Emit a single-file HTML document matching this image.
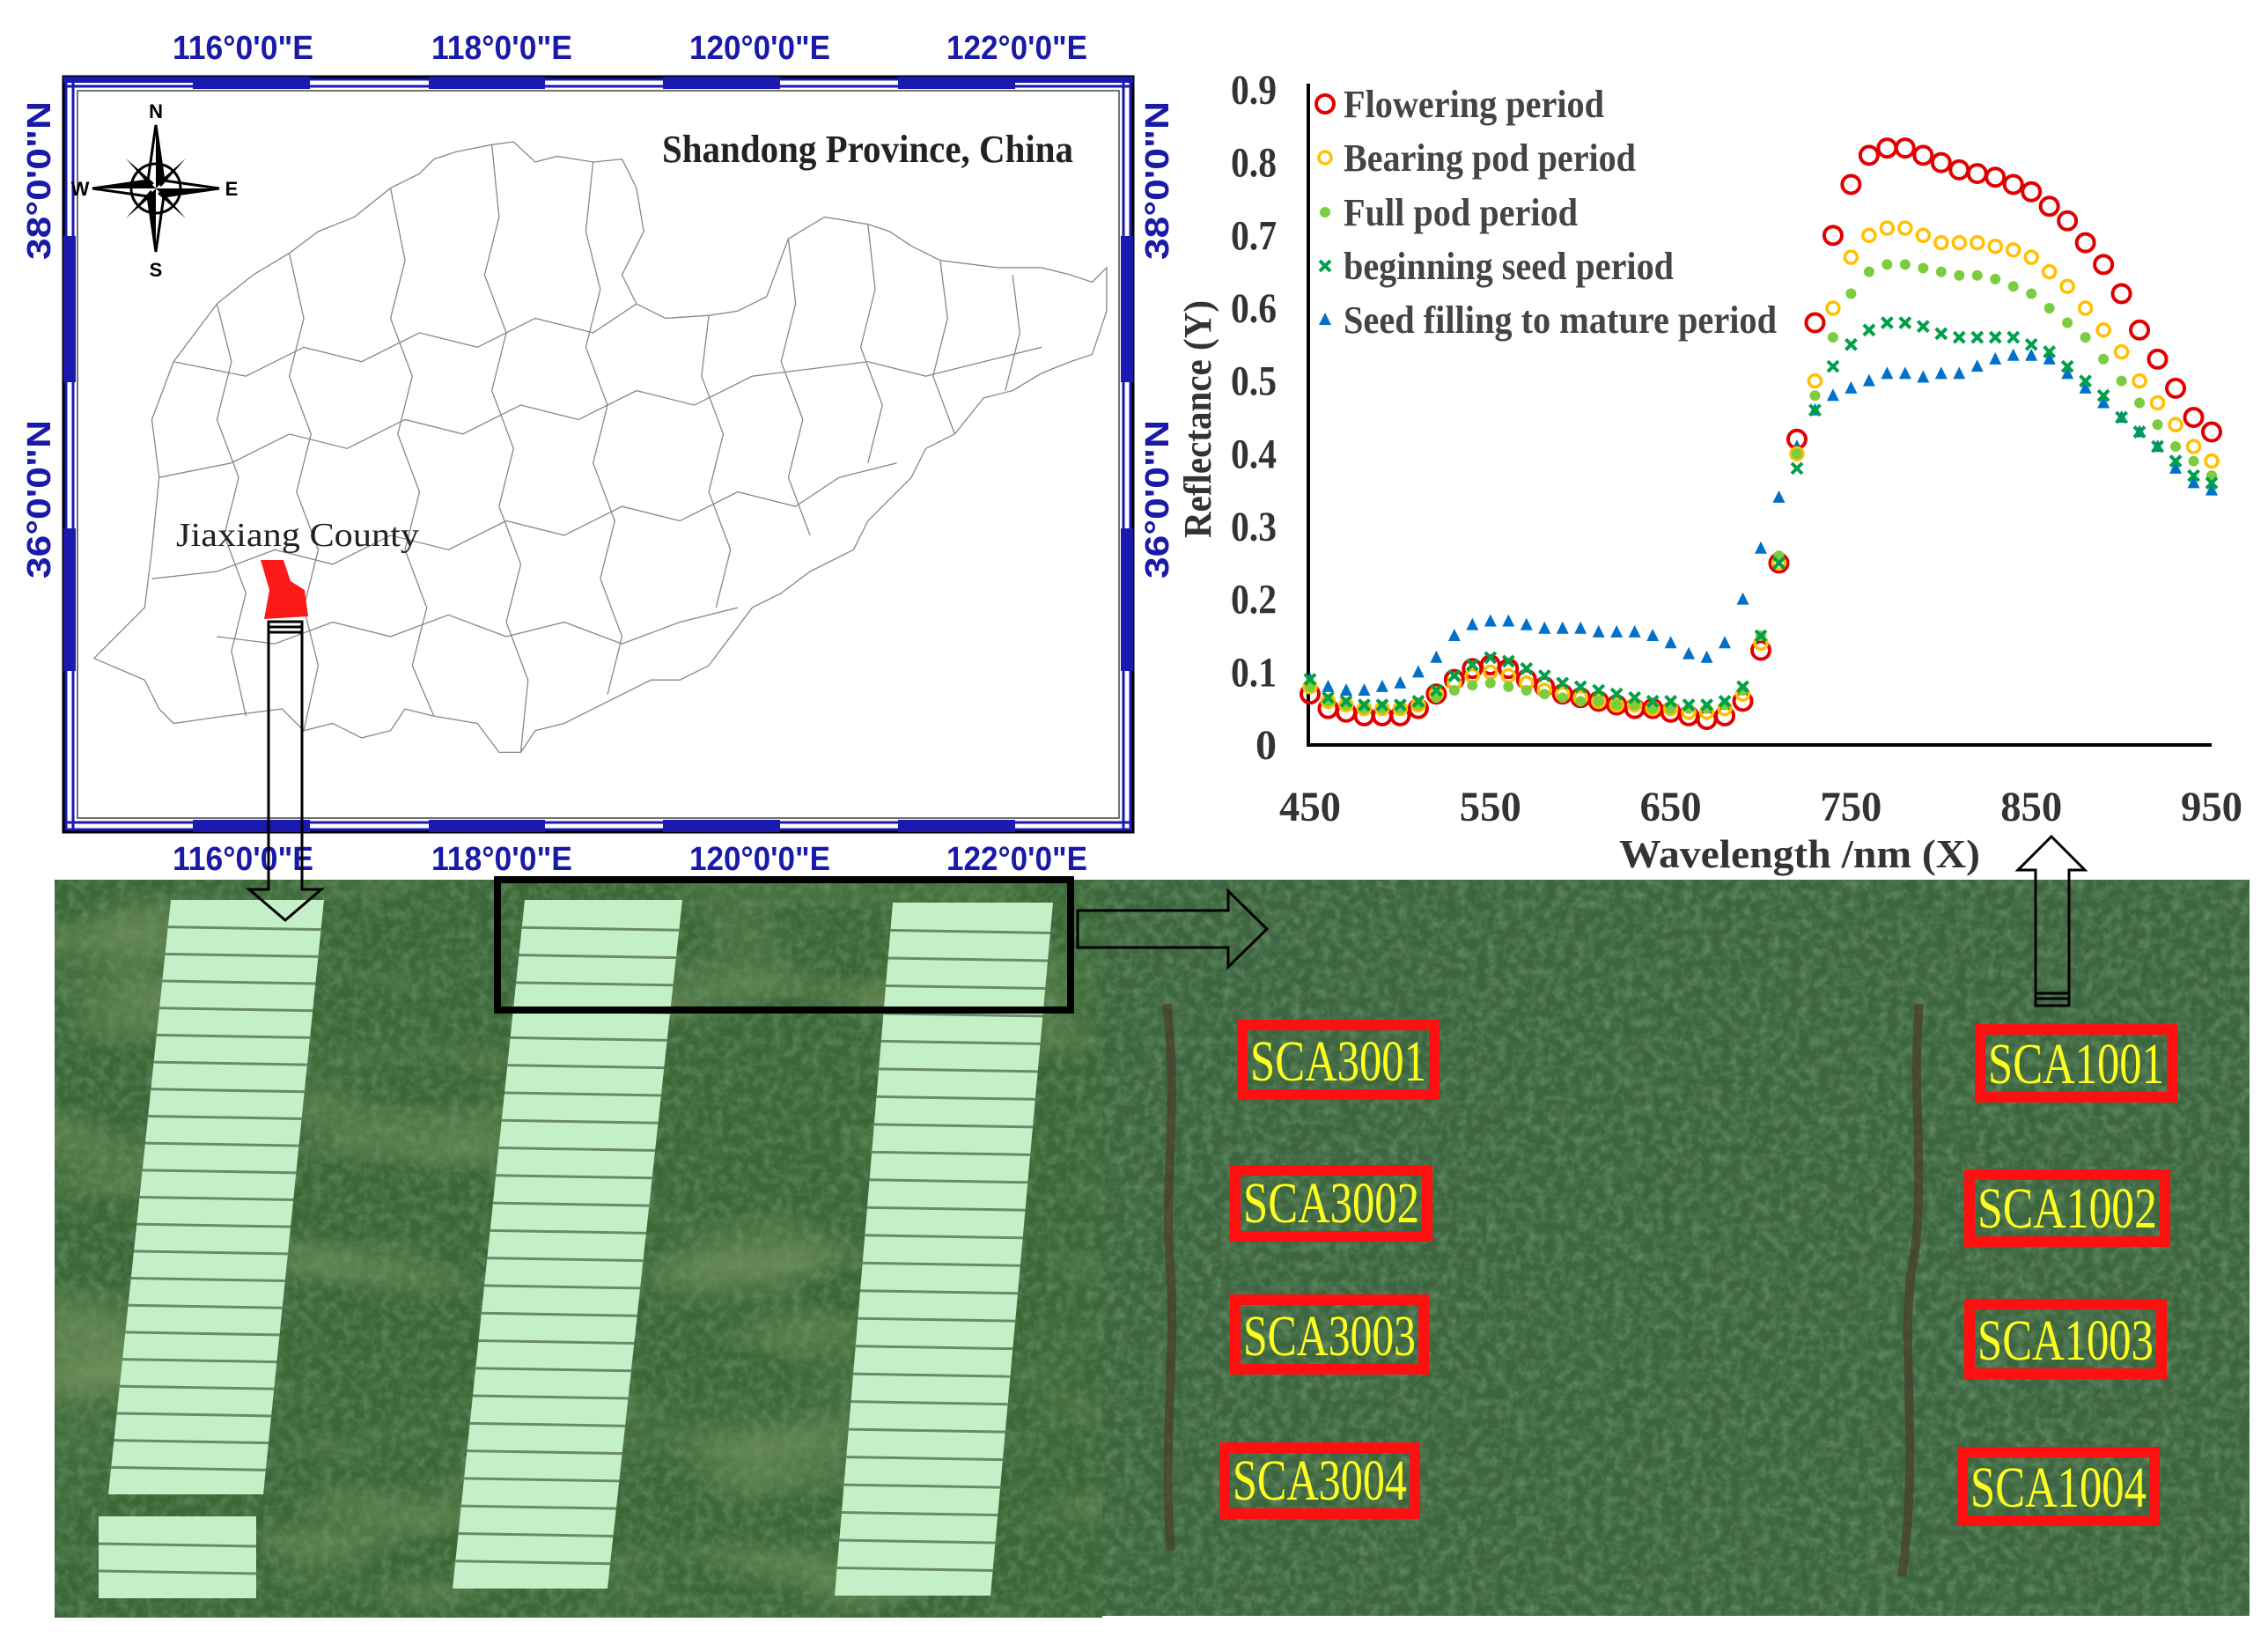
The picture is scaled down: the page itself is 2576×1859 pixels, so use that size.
<!DOCTYPE html>
<html><head><meta charset="utf-8"><title>Study area and spectra</title>
<style>
html,body{margin:0;padding:0;background:#fff;}
svg{display:block;font-family:"Liberation Serif",serif;}
.sans text,text.sans{font-family:"Liberation Sans",sans-serif;}
</style></head>
<body>
<svg id="fig" width="2576" height="1859" viewBox="0 0 2576 1859" xmlns="http://www.w3.org/2000/svg">
<defs>
  <filter id="leafy" x="0" y="0" width="100%" height="100%">
    <feTurbulence type="fractalNoise" baseFrequency="0.09" numOctaves="3" seed="4" result="n"/>
    <feColorMatrix in="n" type="matrix" values="0 0 0 0 0.15  0 0 0 0 0.3  0 0 0 0 0.15  0 0 0 1.6 -0.6"/>
  </filter>
  <filter id="patchy" x="0" y="0" width="100%" height="100%">
    <feTurbulence type="fractalNoise" baseFrequency="0.004 0.012" numOctaves="2" seed="9" result="n"/>
    <feColorMatrix in="n" type="matrix" values="0 0 0 0 0.5  0 0 0 0 0.58  0 0 0 0 0.25  0 0 0 1.2 -0.6"/>
  </filter>
</defs>

<!-- ================= MAP ================= -->
<g>
  <rect x="72" y="87" width="1215" height="858" fill="#fff" stroke="#000" stroke-width="3"/>
  <g id="mapband"></g>
  <g class="sans" fill="#1a1aa8" font-weight="bold" font-size="38">
    <text x="276" y="67" text-anchor="middle" textLength="160" lengthAdjust="spacingAndGlyphs">116°0'0"E</text>
    <text x="570" y="67" text-anchor="middle" textLength="160" lengthAdjust="spacingAndGlyphs">118°0'0"E</text>
    <text x="863" y="67" text-anchor="middle" textLength="160" lengthAdjust="spacingAndGlyphs">120°0'0"E</text>
    <text x="1155" y="67" text-anchor="middle" textLength="160" lengthAdjust="spacingAndGlyphs">122°0'0"E</text>
    <text x="276" y="988" text-anchor="middle" textLength="160" lengthAdjust="spacingAndGlyphs">116°0'0"E</text>
    <text x="570" y="988" text-anchor="middle" textLength="160" lengthAdjust="spacingAndGlyphs">118°0'0"E</text>
    <text x="863" y="988" text-anchor="middle" textLength="160" lengthAdjust="spacingAndGlyphs">120°0'0"E</text>
    <text x="1155" y="988" text-anchor="middle" textLength="160" lengthAdjust="spacingAndGlyphs">122°0'0"E</text>
    <text transform="translate(57,205) rotate(-90)" text-anchor="middle" textLength="180" lengthAdjust="spacingAndGlyphs">38°0'0"N</text>
    <text transform="translate(57,567) rotate(-90)" text-anchor="middle" textLength="180" lengthAdjust="spacingAndGlyphs">36°0'0"N</text>
    <text transform="translate(1327,205) rotate(-90)" text-anchor="middle" textLength="180" lengthAdjust="spacingAndGlyphs">38°0'0"N</text>
    <text transform="translate(1327,567) rotate(-90)" text-anchor="middle" textLength="180" lengthAdjust="spacingAndGlyphs">36°0'0"N</text>
  </g>
  <g transform="scale(1.643)" fill="none" stroke="#888" stroke-width="0.8">
    <polygon fill="#fff" points="65,455 100,420 105,380 110,330 105,290 120,250 150,210 175,190 200,175 220,160 245,150 270,130 290,120 300,110 315,105 340,100 355,98 370,112 385,108 410,112 430,110 440,130 445,160 430,190 440,210 460,220 490,218 510,215 530,205 545,165 570,150 600,155 615,160 630,170 650,180 690,185 720,185 740,190 755,195 765,185 765,215 755,245 740,250 720,258 700,270 680,275 660,300 640,310 630,330 615,345 600,360 590,380 580,385 560,395 540,410 520,420 505,440 490,460 470,470 450,470 430,480 410,490 390,500 370,505 360,520 345,520 330,500 300,495 280,490 270,505 250,510 230,500 210,505 195,490 155,495 120,500 110,490 100,470"/>
    <polyline points="110,330 160,320 200,300 240,310 280,290 320,300 360,280 400,290 440,270 480,280 520,260 560,255 600,250 640,260 680,250 720,240"/>
    <polyline points="105,400 150,395 190,380 230,390 270,370 310,380 350,360 390,370 430,350 470,360 510,340 550,350 580,330 620,320"/>
    <polyline points="120,250 170,260 210,240 250,250 290,230 330,240 370,220 410,230 440,210"/>
    <polyline points="150,440 190,445 230,430 270,440 310,425 350,440 390,430 430,445 470,430 510,420"/>
    <polyline points="200,175 210,220 200,260 215,300 205,340 220,380 210,420 220,460 210,505"/>
    <polyline points="270,130 280,180 270,220 285,260 275,300 290,340 280,380 295,420 285,460 300,495"/>
    <polyline points="340,100 345,150 335,190 350,230 340,270 355,310 345,350 360,390 350,430 365,470 360,520"/>
    <polyline points="410,112 405,160 415,200 405,240 420,280 410,320 425,360 415,400 430,440 420,480"/>
    <polyline points="490,218 485,260 500,300 490,340 505,380 495,420"/>
    <polyline points="545,165 550,210 540,250 555,290 545,330 560,370"/>
    <polyline points="600,155 605,200 595,240 610,280 600,320"/>
    <polyline points="650,180 655,220 645,260 660,300"/>
    <polyline points="700,190 705,230 695,270"/>
    <polyline points="150,210 160,250 150,290 165,330 155,370 170,410 160,450 170,495"/>
  </g>
  <path d="M296,636 L322,636 L330,660 L346,670 L350,700 L300,703 L306,670 Z" fill="#ff1a1a"/>
  <text x="200" y="620" font-size="38" fill="#222" textLength="276" lengthAdjust="spacingAndGlyphs">Jiaxiang County</text>
  <text x="752" y="184" font-size="44" font-weight="bold" fill="#222" textLength="467" lengthAdjust="spacingAndGlyphs">Shandong Province, China</text>
  <g class="sans" transform="translate(177,214)">
    <polygon points="0,-72 9,-9 72,0 9,9 0,72 -9,9 -72,0 -9,-9" fill="#fff" stroke="#000" stroke-width="3"/>
    <polygon points="0,-72 9,-9 0,0" fill="#000"/><polygon points="72,0 9,9 0,0" fill="#000"/>
    <polygon points="0,72 -9,9 0,0" fill="#000"/><polygon points="-72,0 -9,-9 0,0" fill="#000"/>
    <polygon points="34,-34 6,-2 2,-6" fill="#000"/><polygon points="34,34 2,6 6,2" fill="#000"/>
    <polygon points="-34,34 -6,2 -2,6" fill="#000"/><polygon points="-34,-34 -2,-6 -6,-2" fill="#000"/>
    <circle r="28" fill="none" stroke="#000" stroke-width="3"/>
    <text x="0" y="-80" font-weight="bold" font-size="22" text-anchor="middle">N</text>
    <text x="0" y="100" font-weight="bold" font-size="22" text-anchor="middle">S</text>
    <text x="-86" y="8" font-weight="bold" font-size="22" text-anchor="middle">W</text>
    <text x="86" y="8" font-weight="bold" font-size="22" text-anchor="middle">E</text>
  </g>
</g>

<!-- ================= PHOTOS ================= -->
<g>
  <rect x="62" y="999" width="1190" height="838" fill="#3c6838"/>
  <rect x="62" y="999" width="1190" height="838" filter="url(#patchy)" opacity="0.8"/>
  <rect x="62" y="999" width="1190" height="838" filter="url(#leafy)" opacity="0.8"/>
  <g id="strips"></g>
</g>
<g>
  <rect x="1252" y="999" width="1303" height="836" fill="#3d6640"/>
  <rect x="1252" y="999" width="1303" height="836" filter="url(#leafy)" opacity="0.9"/>
  <path d="M1325,1140 C1340,1250 1320,1350 1330,1450 C1335,1550 1320,1650 1330,1760" stroke="#4a3a2a" stroke-width="10" fill="none" opacity="0.7"/>
  <path d="M2180,1140 C2170,1250 2190,1350 2170,1450 C2160,1550 2180,1650 2160,1790" stroke="#4a3a2a" stroke-width="10" fill="none" opacity="0.7"/>
  <g id="labels"></g>
</g>
<rect x="565" y="999" width="651" height="148" fill="none" stroke="#000" stroke-width="8"/>

<!-- arrows -->
<path d="M305,706 L343,706 L343,1010 L365,1010 L324,1045 L283,1010 L305,1010 Z" fill="none" stroke="#000" stroke-width="3"/>
<path d="M305,712 L343,712 M305,718 L343,718" stroke="#000" stroke-width="3"/>
<path d="M1224,1034 L1395,1034 L1395,1012 L1439,1055 L1395,1098 L1395,1076 L1224,1076 Z" fill="none" stroke="#000" stroke-width="3"/>
<path d="M2312,1142 L2312,988 L2292,988 L2330,950 L2368,988 L2350,988 L2350,1142 Z" fill="none" stroke="#000" stroke-width="3"/>
<path d="M2312,1134 L2350,1134 M2312,1128 L2350,1128" stroke="#000" stroke-width="3"/>

<!-- ================= CHART ================= -->
<g id="chart"></g>
</svg>

<script>
var NS='http://www.w3.org/2000/svg';
function mk(tag,attrs,parent){var e=document.createElementNS(NS,tag);for(var k in attrs)e.setAttribute(k,attrs[k]);parent.appendChild(e);return e;}

/* ---- chart data ---- */
var wavelengths=[450,460,470,480,490,500,510,520,530,540,550,560,570,580,590,600,610,620,630,640,650,660,670,680,690,700,710,720,730,740,750,760,770,780,790,800,810,820,830,840,850,860,870,880,890,900,910,920,930,940,950];
var flowering=[0.07,0.05,0.045,0.04,0.04,0.04,0.05,0.07,0.09,0.105,0.11,0.105,0.09,0.08,0.07,0.065,0.06,0.055,0.05,0.05,0.045,0.04,0.035,0.04,0.06,0.13,0.25,0.42,0.58,0.70,0.77,0.81,0.82,0.82,0.81,0.80,0.79,0.785,0.78,0.77,0.76,0.74,0.72,0.69,0.66,0.62,0.57,0.53,0.49,0.45,0.43];
var bearingPod=[0.08,0.06,0.055,0.05,0.05,0.05,0.055,0.07,0.085,0.095,0.10,0.095,0.085,0.075,0.07,0.065,0.06,0.055,0.055,0.05,0.05,0.045,0.045,0.05,0.07,0.14,0.25,0.40,0.50,0.60,0.67,0.70,0.71,0.71,0.70,0.69,0.69,0.69,0.685,0.68,0.67,0.65,0.63,0.60,0.57,0.54,0.50,0.47,0.44,0.41,0.39];
var fullPod=[0.08,0.06,0.055,0.05,0.05,0.05,0.055,0.065,0.075,0.082,0.085,0.08,0.075,0.07,0.065,0.06,0.06,0.055,0.055,0.05,0.05,0.05,0.05,0.055,0.075,0.15,0.26,0.40,0.48,0.56,0.62,0.65,0.66,0.66,0.655,0.65,0.645,0.645,0.64,0.63,0.62,0.60,0.58,0.56,0.53,0.50,0.47,0.44,0.41,0.39,0.37];
var beginningSeed=[0.09,0.065,0.06,0.055,0.055,0.055,0.06,0.075,0.095,0.11,0.12,0.115,0.105,0.095,0.085,0.08,0.075,0.07,0.065,0.06,0.06,0.055,0.055,0.06,0.08,0.15,0.25,0.38,0.46,0.52,0.55,0.57,0.58,0.58,0.575,0.565,0.56,0.56,0.56,0.56,0.55,0.54,0.52,0.50,0.48,0.45,0.43,0.41,0.39,0.37,0.36];
var seedFilling=[0.09,0.08,0.075,0.075,0.08,0.085,0.10,0.12,0.15,0.165,0.17,0.17,0.165,0.16,0.16,0.16,0.155,0.155,0.155,0.15,0.14,0.125,0.12,0.14,0.20,0.27,0.34,0.41,0.46,0.48,0.49,0.50,0.51,0.51,0.505,0.51,0.51,0.52,0.53,0.535,0.535,0.53,0.51,0.49,0.47,0.45,0.43,0.41,0.38,0.36,0.35];
var seriesNames=['Flowering period','Bearing pod period','Full pod period','beginning seed period','Seed filling to mature period'];
var xTicks=[450,550,650,750,850,950];
var yTicks=[0,0.1,0.2,0.3,0.4,0.5,0.6,0.7,0.8,0.9];

var X0=1488,X1=2512,Y0=846,Y1=102;
function xs(v){return X0+(v-450)/(950-450)*(X1-X0);}
function ys(v){return Y0-v/0.9*(Y0-Y1);}

var chart=document.getElementById('chart');
var ax=mk('line',{x1:1485,y1:Y0,x2:2512,y2:Y0,stroke:'#000','stroke-width':4},chart);


var ay=mk('line',{x1:1486,y1:95,x2:1486,y2:Y0+2,stroke:'#000','stroke-width':4},chart);



xTicks.forEach(function(t){
  var e=mk('text',{x:xs(t),y:932,'font-size':48,'font-weight':'bold','text-anchor':'middle',fill:'#333',textLength:70,lengthAdjust:'spacingAndGlyphs'},chart);
  e.textContent=String(t);
  
  
});
yTicks.forEach(function(t){
  var e=mk('text',{x:1450,y:ys(t)+16,'font-size':48,'font-weight':'bold','text-anchor':'end',fill:'#333'},chart);
  e.textContent=(t===0?'0':t.toFixed(1));
  if(t!==0){e.setAttribute('textLength',52);e.setAttribute('lengthAdjust','spacingAndGlyphs');}
  
  
});
var xt=mk('text',{x:2044,y:985,'font-size':46,'font-weight':'bold','text-anchor':'middle',fill:'#333',textLength:410,lengthAdjust:'spacingAndGlyphs'},chart);
xt.textContent='Wavelength /nm  (X)';


var yt=mk('text',{x:0,y:0,'font-size':44,'font-weight':'bold','text-anchor':'middle',fill:'#333',transform:'translate(1375,476) rotate(-90)',textLength:270,lengthAdjust:'spacingAndGlyphs'},chart);
yt.textContent='Reflectance (Y)';



var colors=['#e00000','#ffc000','#7ccc40','#00a04a','#0070c8'];
function marker(kind,x,y,g){
  var c=colors[kind],m;
  if(kind===0)m=mk('circle',{cx:x,cy:y,r:10,fill:'none',stroke:c,'stroke-width':4},g);
  else if(kind===1)m=mk('circle',{cx:x,cy:y,r:7,fill:'none',stroke:c,'stroke-width':3.5},g);
  else if(kind===2)m=mk('circle',{cx:x,cy:y,r:6,fill:c},g);
  else if(kind===3)m=mk('path',{d:'M'+(x-6)+','+(y-6)+'L'+(x+6)+','+(y+6)+'M'+(x+6)+','+(y-6)+'L'+(x-6)+','+(y+6),stroke:c,'stroke-width':4},g);
  else m=mk('polygon',{points:x+','+(y-8)+' '+(x+7)+','+(y+6)+' '+(x-7)+','+(y+6),fill:c},g);
  return m;
}
var allSeries=[flowering,bearingPod,fullPod,beginningSeed,seedFilling];
var order=[4,0,1,2,3];
order.forEach(function(k){
  var g=mk('g',{},chart);
  
  
  allSeries[k].forEach(function(v,i){
    var m=marker(k,xs(wavelengths[i]),ys(v),g);
    
    
  });
});
/* legend */
var legY=[118,179,241,302,363],legW=[296,332,266,375,492];
seriesNames.forEach(function(n,i){
  var g=mk('g',{},chart);
  
  
  marker(i,1505,legY[i],g);
  var t=mk('text',{x:1526,y:legY[i]+15,'font-size':44,'font-weight':'bold',fill:'#444',textLength:legW[i],lengthAdjust:'spacingAndGlyphs'},g);
  t.textContent=n;
});

/* ---- map border band ---- */
var band=document.getElementById('mapband');
var L=72,T=87,R=1287,B=945,w=14;
[[L,T,R-L,w],[L,B-w,R-L,w],[L,T,w,B-T],[R-w,T,w,B-T]].forEach(function(r){
  mk('rect',{x:r[0]+3,y:r[1]+3,width:r[2]-6,height:r[3]-6,fill:'none',stroke:'#1a1ab0','stroke-width':3},band);
});
var hsegs=[[219,352],[487,619],[753,886],[1020,1153]];
hsegs.forEach(function(s){
  mk('rect',{x:s[0],y:T,width:s[1]-s[0],height:w,fill:'#1a1ab0'},band);
  mk('rect',{x:s[0],y:B-w,width:s[1]-s[0],height:w,fill:'#1a1ab0'},band);
});
mk('rect',{x:L,y:T,width:147,height:7,fill:'#1a1ab0'},band);
mk('rect',{x:1153,y:T,width:134,height:7,fill:'#1a1ab0'},band);
var vsegs=[[268,434],[600,762]];
vsegs.forEach(function(s){
  mk('rect',{x:L,y:s[0],width:w,height:s[1]-s[0],fill:'#1a1ab0'},band);
  mk('rect',{x:R-w,y:s[0],width:w,height:s[1]-s[0],fill:'#1a1ab0'},band);
});
mk('rect',{x:L+w+2,y:T+w+2,width:R-L-2*w-4,height:B-T-2*w-4,fill:'none',stroke:'#444','stroke-width':1.5},band);

/* ---- plot strips ---- */
var strips=document.getElementById('strips');
var cols=[
  {tl:[194,1022],tr:[368,1022],bl:[123,1697],br:[299,1697],n:22},
  {tl:[112,1722],tr:[291,1722],bl:[112,1815],br:[291,1815],n:3},
  {tl:[596,1022],tr:[775,1022],bl:[514,1804],br:[690,1804],n:25},
  {tl:[1014,1025],tr:[1196,1025],bl:[948,1812],br:[1125,1812],n:25}
];
cols.forEach(function(c){
  var p=mk('polygon',{points:[c.tl,c.tr,c.br,c.bl].map(function(q){return q.join(',');}).join(' '),fill:'#c4f0c8'},strips);
  
  
  for(var i=1;i<c.n;i++){
    var f=i/c.n;
    var x1=c.tl[0]+(c.bl[0]-c.tl[0])*f,y1=c.tl[1]+(c.bl[1]-c.tl[1])*f;
    var x2=c.tr[0]+(c.br[0]-c.tr[0])*f,y2=c.tr[1]+(c.br[1]-c.tr[1])*f+3;
    mk('line',{x1:x1,y1:y1,x2:x2,y2:y2,stroke:'#6a8a6a','stroke-width':3},strips);
  }
});

/* ---- plot labels ---- */
var labs=[['SCA3001',1405,1158,1635,1249],['SCA3002',1397,1323,1627,1410],['SCA3003',1397,1470,1623,1561],['SCA3004',1385,1638,1613,1725],
['SCA1001',2243,1163,2473,1252],['SCA1002',2231,1328,2465,1416],['SCA1003',2231,1475,2461,1566],['SCA1004',2223,1643,2453,1733]];
var lg=document.getElementById('labels');
labs.forEach(function(l){
  var g=mk('g',{},lg);
  
  
  mk('rect',{x:l[1]+6,y:l[2]+6,width:l[3]-l[1]-12,height:l[4]-l[2]-12,fill:'none',stroke:'#ff1010','stroke-width':12},g);
  var t=mk('text',{x:(l[1]+l[3])/2,y:l[4]-22,'font-size':66,fill:'#ffff20','text-anchor':'middle',textLength:l[3]-l[1]-30,lengthAdjust:'spacingAndGlyphs'},g);
  t.textContent=l[0];
});
</script>
</body></html>
